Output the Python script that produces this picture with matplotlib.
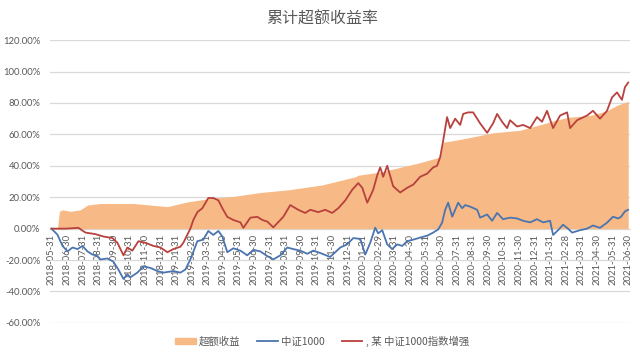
import numpy as np
import matplotlib
matplotlib.use("Agg")
import matplotlib.pyplot as plt
from matplotlib.patches import Patch
from matplotlib.lines import Line2D

plt.rcParams['font.family'] = ['Noto Sans CJK SC', 'DejaVu Sans']

# x = months after 2018-05-31 (category axis, one slot per month end)
month_labels = ['2018-05-31', '2018-06-30', '2018-07-31', '2018-08-31', '2018-09-30', '2018-10-31',
                '2018-11-30', '2018-12-31', '2019-01-31', '2019-02-28', '2019-03-31', '2019-04-30',
                '2019-05-31', '2019-06-30', '2019-07-31', '2019-08-31', '2019-09-30', '2019-10-31',
                '2019-11-30', '2019-12-31', '2020-01-31', '2020-02-29', '2020-03-31', '2020-04-30',
                '2020-05-31', '2020-06-30', '2020-07-31', '2020-08-31', '2020-09-30', '2020-10-31',
                '2020-11-30', '2020-12-31', '2021-01-31', '2021-02-28', '2021-03-31', '2021-04-30',
                '2021-05-31', '2021-06-30']

# 超额收益 (%)
t_excess = [0, 0.38, 0.51, 0.71, 1.22, 1.86, 2.31, 3.14, 5.26, 6.35, 7.44, 8.72, 10.38, 11.67,
            13.4, 15.19, 17.37, 19.49, 19.68, 21.09, 22.37, 23.65, 24.94, 25.13, 25.77, 26.86,
            28.33, 30.06, 31.67, 32.31, 33.27, 34.55, 35.64, 36.28, 37]
excess = [0, 0, 11, 12, 11, 12, 15, 16, 16, 15, 14, 17, 19.5, 20.5,
          23, 24.7, 27.8, 33, 34, 36, 39, 42, 45.6, 55, 56, 58,
          61, 62.6, 67, 69, 71, 72, 75, 78.5, 81]

# 中证1000 (%)
t_csi = [0, 0.38, 0.71, 1.03, 1.35, 1.67, 1.99, 2.31, 2.63, 2.88, 3.14, 3.59, 3.97, 4.29, 4.62,
         4.87, 5.06, 5.51, 5.9, 6.35, 6.79, 7.18, 7.82, 8.27, 8.59, 8.91, 9.36, 9.74, 10.06,
         10.38, 10.71, 10.96, 11.28, 11.67, 12.12, 12.56, 12.95, 13.4, 13.85, 14.23, 14.68,
         15.13, 15.51, 15.96, 16.41, 16.79, 17.24, 17.88, 18.53, 18.97, 19.36, 19.81, 20.13,
         20.45, 20.77, 20.96, 21.22, 21.54, 21.86, 22.18, 22.5, 22.82, 23.21, 23.65, 24.1,
         24.49, 24.81, 25.06, 25.26, 25.45, 25.71, 25.9, 26.09, 26.35, 26.54, 26.86, 27.31,
         27.5, 27.95, 28.27, 28.59, 28.97, 29.42, 29.87, 30.26, 30.71, 31.15, 31.54, 31.99,
         32.18, 32.5, 32.82, 33.14, 33.4, 33.91, 34.36, 34.74, 35.19, 35.64, 36.03, 36.35,
         36.54, 36.79, 37]
csi1000 = [0, -3.8, -11, -14.5, -12, -13, -11, -14.5, -16.5, -17, -19.6, -19, -21, -26, -32,
           -29, -31, -28, -24, -25, -27, -28, -27, -28, -26, -19.6, -8, -7, -1.5,
           -4, -1.5, -5, -15, -12.5, -14, -17, -13.5, -14.5, -17.5, -19.6, -17,
           -12, -13, -14, -16, -14, -15.5, -18, -12, -10, -6, -6.5, -16.5,
           -9, 0.6, -3, -1, -10, -13, -10, -11, -8, -7, -5.7, -4.5,
           -2.5, -0.5, 3.8, 12, 16.5, 7.6, 12, 16.5, 13, 15, 14, 12,
           7, 9, 5, 10, 6, 7, 6.5, 5, 4, 6, 4, 5,
           -4, -1, 2.5, 0, -2.5, -1, 0, 2, 0.5, 3.8, 7.6, 6.5,
           7.5, 11, 12]

# 某 中证1000指数增强 (%)
t_fund = [0, 0.9, 1.73, 2.18, 2.82, 3.33, 3.91, 4.23, 4.62, 4.87, 5.19, 5.58, 6.03, 6.54, 6.99,
          7.44, 7.82, 8.27, 8.46, 8.91, 9.1, 9.36, 9.68, 10.06, 10.38, 10.71, 10.96, 11.28,
          11.67, 12.12, 12.31, 12.76, 13.21, 13.53, 13.85, 14.23, 14.87, 15.32, 15.83, 16.28,
          16.6, 17.12, 17.56, 18.01, 18.4, 18.85, 19.29, 19.68, 19.94, 20.26, 20.64, 20.9,
          21.09, 21.28, 21.54, 21.92, 22.37, 22.82, 23.21, 23.65, 24.1, 24.49, 24.74, 24.94,
          25.13, 25.38, 25.58, 25.9, 26.22, 26.41, 26.73, 27.05, 27.31, 27.5, 27.95, 28.33,
          28.59, 28.91, 29.23, 29.42, 29.87, 30.26, 30.71, 31.15, 31.47, 31.79, 32.18, 32.63,
          33.08, 33.27, 33.72, 34.36, 34.74, 35.19, 35.64, 35.96, 36.28, 36.6, 36.79, 37]
fund = [0, 0, 0.5, -2.5, -3.5, -5, -6, -9, -17, -12, -14, -8, -9, -11, -12,
        -15, -13, -11.5, -9, 0, 5.5, 10.5, 13, 19.5, 19.5, 18, 13, 7.5,
        5.5, 4, 0.5, 7, 7.5, 5.5, 4.5, 0.8, 7.5, 15, 12, 10,
        12, 10.5, 12, 10, 13, 18, 24.7, 29, 26, 16.5, 24.7, 34,
        39, 33, 40, 27, 23, 26, 28, 33, 35, 39, 40, 45.6,
        56, 71, 64, 70, 66, 73, 74, 74, 70, 67, 61, 67,
        73, 68, 64, 69, 65, 66, 64, 71, 68, 75, 64, 72,
        74, 64, 69, 72, 75, 70, 75, 83.5, 86.7, 82, 90, 93]

c_fill = '#F7B985'
c_blue = '#4A75B0'
c_red = '#B8413D'
c_grid = '#D9D9D9'
c_text = '#595959'
num_font = ['Lato', 'DejaVu Sans']

fig = plt.figure(figsize=(6.4, 3.58), dpi=100)
ax = fig.add_axes([0.078, 0.098, 0.906, 0.79])

# axis line sits at 0 like the Excel chart; set it before the ticks
for s in ['top', 'right', 'left']:
    ax.spines[s].set_visible(False)
ax.spines['bottom'].set_position(('data', 0))
ax.spines['bottom'].set_color(c_grid)
ax.spines['bottom'].set_zorder(1)

ax.fill_between(t_excess, 0, excess, color=c_fill, lw=0, zorder=2)
ax.plot(t_csi, csi1000, color=c_blue, lw=1.3, zorder=3)
ax.plot(t_fund, fund, color=c_red, lw=1.3, zorder=4)

ax.set_xlim(-0.1, 37.1)
ax.set_ylim(-60, 120)
yt = np.arange(-60, 121, 20)
ax.set_yticks(yt)
ax.set_yticklabels(['%.2f%%' % v for v in yt], fontsize=6.8, color=c_text, family=num_font)
ax.set_xticks(np.arange(len(month_labels)))
ax.set_xticklabels(month_labels, rotation=90, fontsize=6.8, color=c_text, family=num_font)
ax.tick_params(axis='both', length=0)
ax.tick_params(axis='x', pad=4)
ax.tick_params(axis='y', pad=7)

ax.grid(axis='y', color=c_grid, lw=0.9, zorder=0)
ax.set_axisbelow(True)

fig.text(0.503, 0.948, '累计超额收益率', ha='center', va='center', fontsize=11.5, color=c_text)

handles = [Patch(color=c_fill, label='超额收益'),
           Line2D([], [], color=c_blue, lw=1.3, label='中证1000'),
           Line2D([], [], color=c_red, lw=1.3, label=', 某 中证1000指数增强')]
leg = fig.legend(handles=handles, loc='center', bbox_to_anchor=(0.503, 0.047), ncol=3,
                 frameon=False, fontsize=7.5, handlelength=2.0, handleheight=0.5,
                 columnspacing=1.6, handletextpad=0.3)
for txt in leg.get_texts():
    txt.set_color(c_text)

fig.savefig('out.png', dpi=100)
